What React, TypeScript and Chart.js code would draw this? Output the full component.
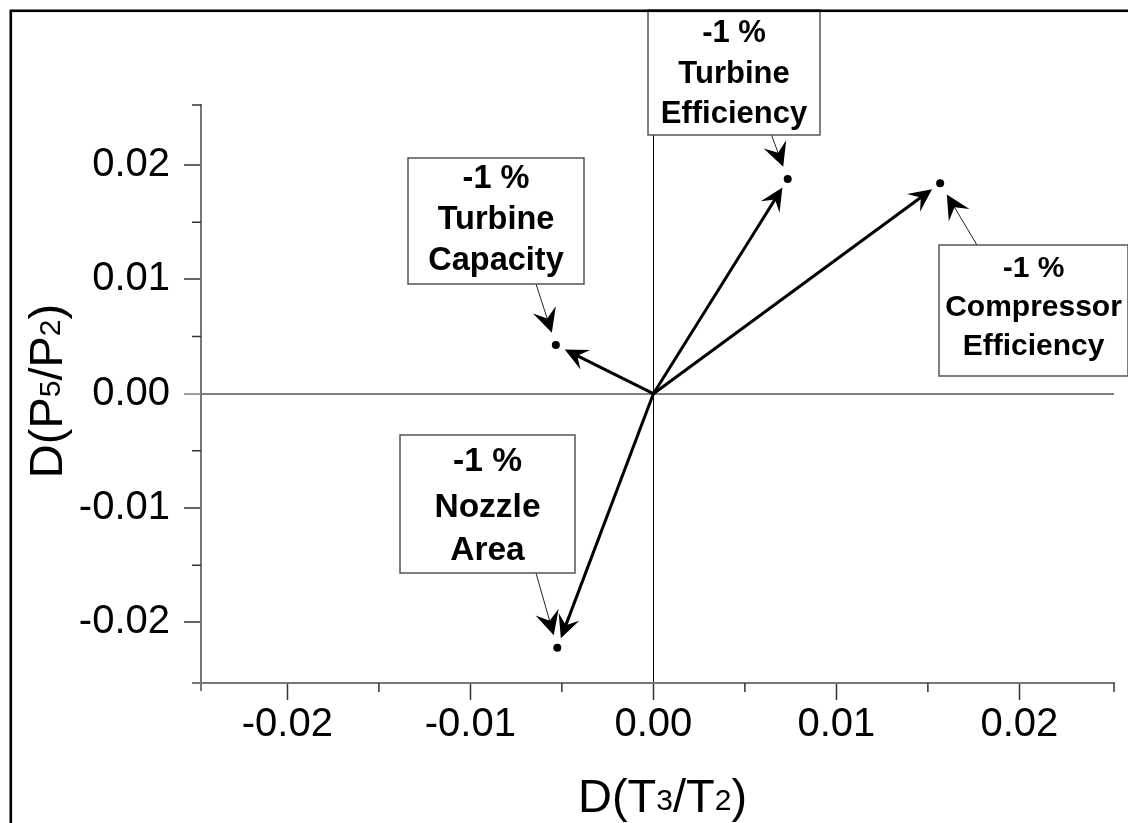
import React, { useEffect, useRef } from "react";
import { Chart, registerables } from "chart.js";

Chart.register(...registerables);

// ---------------- data ----------------
const pointNames = ["Turbine Capacity", "Nozzle Area", "Turbine Efficiency", "Compressor Efficiency"];
const xValues = [-0.00533, -0.00525, 0.00734, 0.01567];
const yValues = [0.00426, -0.02222, 0.01878, 0.01841];
const calloutText = [
  ["-1 %", "Turbine", "Capacity"],
  ["-1 %", "Nozzle", "Area"],
  ["-1 %", "Turbine", "Efficiency"],
  ["-1 %", "Compressor", "Efficiency"],
];
const xMinorTicks = [-0.015, -0.005, 0.005, 0.015];
const yMinorTicks = [-0.015, -0.005, 0.005, 0.015];
const X_MIN = -0.02472;
const X_MAX = 0.02517;
const Y_MIN = -0.02531;
const Y_MAX = 0.02526;
const TICK_STEP = 0.01;

// ---------------- layout (pixels) ----------------
const calloutLayout = [
  { x: 408, y: 158, w: 176, h: 126, base: [30, 71, 112], size: 32.5, sx: 536, sy: 284 },
  { x: 400, y: 435, w: 175, h: 138, base: [36, 81.5, 125], size: 33.5, sx: 536, sy: 573 },
  { x: 648, y: 10, w: 172, h: 125, base: [32, 73, 113], size: 31, sx: 771.5, sy: 135 },
  { x: 939, y: 245, w: 189, h: 131, base: [31.5, 71, 110], size: 30, sx: 977, sy: 245 },
];

const FONT = "'Liberation Sans', Arial, Helvetica, sans-serif";

const fmt = (v: number) => (Math.abs(v) < 1e-9 ? "0.00" : Number(v).toFixed(2));
const isZero = (ctx: any) => ctx && ctx.tick && Math.abs(ctx.tick.value) < 1e-9;

function drawHead(ctx: CanvasRenderingContext2D, tx: number, ty: number, ux: number, uy: number, len: number, hw: number, notch: number) {
  const px = -uy, py = ux;
  ctx.beginPath();
  ctx.moveTo(tx, ty);
  ctx.lineTo(tx - ux * len + px * hw, ty - uy * len + py * hw);
  ctx.lineTo(tx - ux * notch, ty - uy * notch);
  ctx.lineTo(tx - ux * len - px * hw, ty - uy * len - py * hw);
  ctx.closePath();
  ctx.fill();
}

function drawTitle(ctx: CanvasRenderingContext2D, parts: { t: string; sub: boolean }[], main: number, sub: number) {
  let total = 0;
  const widths: number[] = [];
  for (const p of parts) {
    ctx.font = `${p.sub ? sub : main}px ${FONT}`;
    const w = ctx.measureText(p.t).width;
    widths.push(w);
    total += w;
  }
  let x = -total / 2;
  ctx.textAlign = "left";
  ctx.textBaseline = "alphabetic";
  parts.forEach((p, i) => {
    ctx.font = `${p.sub ? sub : main}px ${FONT}`;
    ctx.fillText(p.t, x, p.sub ? -2 : 0);
    x += widths[i];
  });
}

const annotPlugin = {
  id: "annot",
  afterDatasetsDraw(chart: any) {
    const ctx: CanvasRenderingContext2D = chart.ctx;
    const xs = chart.scales.x, ys = chart.scales.y;
    const ox = xs.getPixelForValue(0), oy = ys.getPixelForValue(0);
    ctx.save();
    ctx.fillStyle = "#000";
    ctx.strokeStyle = "#000";
    ctx.lineWidth = 3;
    xValues.forEach((xv, i) => {
      const px = xs.getPixelForValue(xv), py = ys.getPixelForValue(yValues[i]);
      const dx = px - ox, dy = py - oy;
      const L = Math.hypot(dx, dy);
      const ux = dx / L, uy = dy / L;
      const tx = px - ux * 10, ty = py - uy * 10;
      ctx.beginPath();
      ctx.moveTo(ox, oy);
      ctx.lineTo(tx - ux * 12, ty - uy * 12);
      ctx.stroke();
      drawHead(ctx, tx, ty, ux, uy, 23, 11, 14);
    });
    ctx.restore();
  },
  afterDraw(chart: any) {
    const ctx: CanvasRenderingContext2D = chart.ctx;
    const xs = chart.scales.x, ys = chart.scales.y;
    const ca = chart.chartArea;
    ctx.save();
    // minor ticks
    ctx.strokeStyle = "#333";
    ctx.lineWidth = 1.5;
    ctx.beginPath();
    xMinorTicks.forEach((v) => {
      const p = xs.getPixelForValue(v);
      ctx.moveTo(p, ca.bottom);
      ctx.lineTo(p, ca.bottom + 9);
    });
    yMinorTicks.forEach((v) => {
      const p = ys.getPixelForValue(v);
      ctx.moveTo(ca.left, p);
      ctx.lineTo(ca.left - 9, p);
    });
    // end ticks
    ctx.moveTo(xs.getPixelForValue(X_MAX), ca.bottom);
    ctx.lineTo(xs.getPixelForValue(X_MAX), ca.bottom + 9);
    ctx.moveTo(ca.left, ys.getPixelForValue(Y_MAX));
    ctx.lineTo(ca.left - 9, ys.getPixelForValue(Y_MAX));
    ctx.stroke();
    // axis extensions at the crossing
    ctx.strokeStyle = "#777";
    ctx.lineWidth = 2;
    ctx.beginPath();
    ctx.moveTo(ca.left - 9, ca.bottom);
    ctx.lineTo(ca.left, ca.bottom);
    ctx.moveTo(ca.left, ca.bottom);
    ctx.lineTo(ca.left, ca.bottom + 8);
    ctx.stroke();

    // callouts
    calloutLayout.forEach((b, i) => {
      const px = xs.getPixelForValue(xValues[i]), py = ys.getPixelForValue(yValues[i]);
      // leader
      const dx = px - b.sx, dy = py - b.sy;
      const L = Math.hypot(dx, dy);
      const ux = dx / L, uy = dy / L;
      const tx = px - ux * 13, ty = py - uy * 13;
      ctx.strokeStyle = "#222";
      ctx.lineWidth = 1;
      ctx.beginPath();
      ctx.moveTo(b.sx, b.sy);
      ctx.lineTo(tx - ux * 14, ty - uy * 14);
      ctx.stroke();
      ctx.fillStyle = "#000";
      drawHead(ctx, tx, ty, ux, uy, 24, 12, 15);
      // box
      ctx.fillStyle = "#fff";
      ctx.fillRect(b.x, b.y, b.w, b.h);
      ctx.strokeStyle = "#555";
      ctx.lineWidth = 1.5;
      ctx.strokeRect(b.x, b.y, b.w, b.h);
      ctx.fillStyle = "#000";
      ctx.font = `bold ${b.size}px ${FONT}`;
      ctx.textAlign = "center";
      ctx.textBaseline = "alphabetic";
      calloutText[i].forEach((line, j) => {
        ctx.fillText(line, b.x + b.w / 2, b.y + b.base[j]);
      });
    });

    // axis titles
    ctx.fillStyle = "#000";
    ctx.save();
    ctx.translate(662.5, 811.5);
    drawTitle(ctx, [
      { t: "D(", sub: false }, { t: "T", sub: false }, { t: "3", sub: true },
      { t: "/T", sub: false }, { t: "2", sub: true }, { t: ")", sub: false },
    ], 47, 30);
    ctx.restore();
    ctx.save();
    ctx.translate(62, 391);
    ctx.rotate(-Math.PI / 2);
    drawTitle(ctx, [
      { t: "D(", sub: false }, { t: "P", sub: false }, { t: "5", sub: true },
      { t: "/P", sub: false }, { t: "2", sub: true }, { t: ")", sub: false },
    ], 47, 30);
    ctx.restore();

    // outer frame
    ctx.strokeStyle = "#000";
    ctx.lineWidth = 2.6;
    ctx.strokeRect(10.8, 10.8, 3000, 3000);
    ctx.restore();
  },
};

export default function App() {
  const ref = useRef<HTMLCanvasElement | null>(null);
  useEffect(() => {
    if (!ref.current) return;
    const chart = new Chart(ref.current, {
      type: "scatter",
      data: {
        datasets: [
          {
            label: "points",
            data: xValues.map((x, i) => ({ x, y: yValues[i] })),
            pointRadius: 4,
            pointHoverRadius: 4,
            backgroundColor: "#000",
            borderWidth: 0,
          },
        ],
      },
      options: {
        responsive: false,
        animation: false,
        devicePixelRatio: 1,
        events: [],
        layout: { padding: { top: 105, right: 14, bottom: 0, left: 0 } },
        plugins: { legend: { display: false }, tooltip: { enabled: false }, title: { display: false } },
        scales: {
          x: {
            type: "linear",
            position: "bottom",
            min: X_MIN,
            max: X_MAX,
            afterFit: (s: any) => { s.height = 140; },
            ticks: {
              stepSize: TICK_STEP,
              includeBounds: false,
              autoSkip: false,
              maxRotation: 0,
              padding: 1,
              color: "#000",
              font: { family: FONT, size: 40 },
              callback: (v: any) => fmt(Number(v)),
            },
            grid: {
              drawOnChartArea: true,
              drawTicks: true,
              tickLength: 17,
              tickWidth: 1.5,
              tickColor: "#333",
              color: (c: any) => (isZero(c) ? "#000" : "rgba(0,0,0,0)"),
              lineWidth: 1,
            },
            border: { display: true, color: "#777", width: 2 },
          },
          y: {
            type: "linear",
            position: "left",
            min: Y_MIN,
            max: Y_MAX,
            afterFit: (s: any) => { s.width = 201; },
            ticks: {
              stepSize: TICK_STEP,
              includeBounds: false,
              autoSkip: false,
              padding: 14,
              color: "#000",
              font: { family: FONT, size: 40 },
              callback: (v: any) => fmt(Number(v)),
            },
            grid: {
              drawOnChartArea: true,
              drawTicks: true,
              tickLength: 17,
              tickWidth: 1.5,
              tickColor: (c: any) => (isZero(c) ? "#808080" : "#333"),
              color: (c: any) => (isZero(c) ? "#808080" : "rgba(0,0,0,0)"),
              lineWidth: 2,
            },
            border: { display: true, color: "#777", width: 2 },
          },
        },
      },
      plugins: [annotPlugin],
    } as any);
    return () => chart.destroy();
  }, []);
  return (
    <div style={{ position: "absolute", left: 0, top: 0, width: 1128, height: 823, background: "#fff", overflow: "hidden" }}>
      <canvas ref={ref} width={1128} height={823} style={{ display: "block", width: 1128, height: 823 }} />
    </div>
  );
}
